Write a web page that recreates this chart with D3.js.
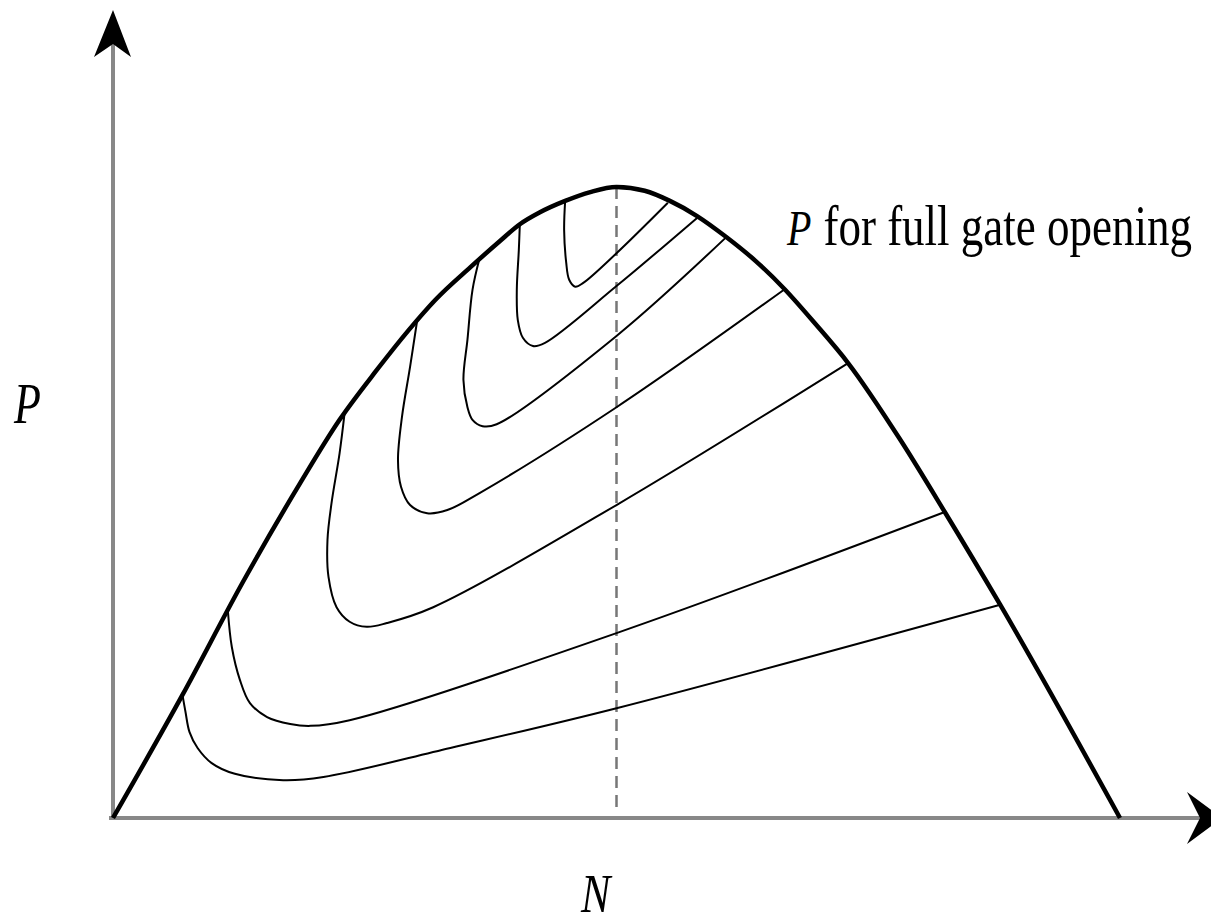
<!DOCTYPE html>
<html lang="en">
<head>
<meta charset="UTF-8">
<title>P vs N for gate openings</title>
<script src="https://cdnjs.cloudflare.com/ajax/libs/d3/7.8.5/d3.min.js"></script>
<style>
  body { margin: 0; background: #fff; }
  svg { display: block; }
  .lbl { font-family: "Liberation Serif", "Times New Roman", serif; fill: #000; }
</style>
</head>
<body>
<svg width="1211" height="923"></svg>
<script>
// P (percent of peak) against N (percent of runaway speed)
const outerCurve = [
  [0, 0], [6.9, 19.5], [12.9, 37.4], [18.6, 53.1], [22.5, 63.1], [26.2, 71.0],
  [29.3, 77.2], [32.0, 82.1], [35.5, 87.3], [38.4, 91.4], [40.4, 94.1], [42.4, 96.0],
  [44.9, 97.8], [47.4, 99.2], [50.0, 100], [52.8, 99.4], [55.3, 97.8], [58.0, 95.4],
  [60.8, 92.2], [63.8, 88.3], [66.7, 83.8], [69.7, 78.4], [73.0, 72.1], [78.2, 59.9],
  [82.6, 48.5], [88.1, 33.8], [100, 0]
];

// partial gate openings, smallest opening first
const curve1 = [[6.9, 19.5], [7.2, 16.8], [7.6, 13.6], [8.4, 11.1], [9.8, 8.7], [12.1, 7.0],
  [16.9, 6.0], [20.9, 6.5], [33.5, 11.1], [50.0, 17.4], [88.1, 33.8]];
const curve2 = [[11.4, 33.0], [11.8, 27.1], [12.6, 21.9], [13.6, 18.2], [15.3, 16.0], [17.6, 14.9],
  [19.6, 14.6], [23.5, 15.5], [50.0, 29.3], [82.6, 48.5]];
const curve3 = [[23.0, 64.2], [22.5, 57.8], [21.7, 49.9], [21.3, 44.1], [21.4, 38.2], [22.2, 33.4],
  [23.5, 31.1], [25.2, 30.3], [27.2, 30.9], [31.8, 33.4], [50.0, 49.6], [73.0, 72.1]];
const curve4 = [[30.2, 78.8], [29.5, 71.5], [28.7, 63.6], [28.3, 56.7], [28.6, 52.5], [29.5, 49.6],
  [31.2, 48.3], [33.2, 48.8], [36.4, 51.5], [50.0, 65.1], [66.7, 83.8]];
const curve5 = [[36.4, 88.7], [35.7, 83.7], [35.2, 75.8], [34.8, 69.4], [35.2, 65.1], [35.7, 63.1],
  [36.7, 62.1], [38.1, 62.4], [50.0, 76.4], [60.8, 91.9]];
const curve6 = [[40.4, 94.1], [40.3, 90.0], [40.1, 83.7], [40.2, 78.9], [40.7, 76.1], [41.7, 74.8],
  [42.9, 75.3], [50.0, 84.3], [58.0, 95.1]];
const curve7 = [[44.9, 97.8], [44.8, 93.2], [45.0, 88.1], [45.3, 85.3], [45.9, 84.2], [46.7, 84.8],
  [50.0, 89.5], [55.1, 97.5]];

const gateCurves = [curve1, curve2, curve3, curve4, curve5, curve6, curve7];
const peakN = 50;

const svg = d3.select("svg");
const x = d3.scaleLinear().domain([0, 100]).range([113, 1120]);
const y = d3.scaleLinear().domain([0, 100]).range([818, 187]);

const gateLine = d3.line()
  .x(d => x(d[0]))
  .y(d => y(d[1]))
  .curve(d3.curveCatmullRom.alpha(0.5));

const outerLine = d3.line()
  .x(d => x(d[0]))
  .y(d => y(d[1]))
  .curve(d3.curveMonotoneX);

// axes
const x0 = x(0), y0 = y(0);
svg.append("line")
  .attr("x1", x0).attr("y1", y0 + 2).attr("x2", x0).attr("y2", 40)
  .attr("stroke", "#888").attr("stroke-width", 4);
svg.append("line")
  .attr("x1", x0 - 4).attr("y1", y0).attr("x2", 1200).attr("y2", y0)
  .attr("stroke", "#888").attr("stroke-width", 4);

// arrow heads
svg.append("path")
  .attr("d", `M${x0},10 L${x0 + 18},57 L${x0},44 L${x0 - 19},57 Z`)
  .attr("fill", "#000");
svg.append("path")
  .attr("d", `M1222,${y0} L1187,${y0 - 26} L1200,${y0} L1187,${y0 + 26} Z`)
  .attr("fill", "#000");

// dashed line at the peak
svg.append("line")
  .attr("x1", x(peakN)).attr("x2", x(peakN))
  .attr("y1", y(100)).attr("y2", y(1.6))
  .attr("stroke", "#777").attr("stroke-width", 2.5)
  .attr("stroke-dasharray", "12,7");

svg.selectAll(".gate")
  .data(gateCurves)
  .join("path")
  .attr("class", "gate")
  .attr("d", gateLine)
  .attr("fill", "none")
  .attr("stroke", "#000")
  .attr("stroke-width", 2);

// full gate opening
svg.append("path")
  .datum(outerCurve)
  .attr("d", outerLine)
  .attr("fill", "none")
  .attr("stroke", "#000")
  .attr("stroke-width", 4.5)
  .attr("stroke-linejoin", "round");

// labels (the picture's type is stretched vertically)
const label = svg.append("text")
  .attr("class", "lbl")
  .attr("transform", "translate(787,245) scale(1,1.28)")
  .attr("font-size", 45);
label.append("tspan").attr("font-style", "italic").attr("font-size", 40).text("P");
label.append("tspan").attr("dx", 12).text("for full gate opening");

svg.append("text")
  .attr("class", "lbl")
  .attr("transform", "translate(14,423) scale(1,1.28)")
  .attr("font-size", 44)
  .attr("font-style", "italic")
  .text("P");

svg.append("text")
  .attr("class", "lbl")
  .attr("transform", "translate(581,912) scale(1,1.25)")
  .attr("font-size", 44)
  .attr("font-style", "italic")
  .text("N");
</script>
</body>
</html>
